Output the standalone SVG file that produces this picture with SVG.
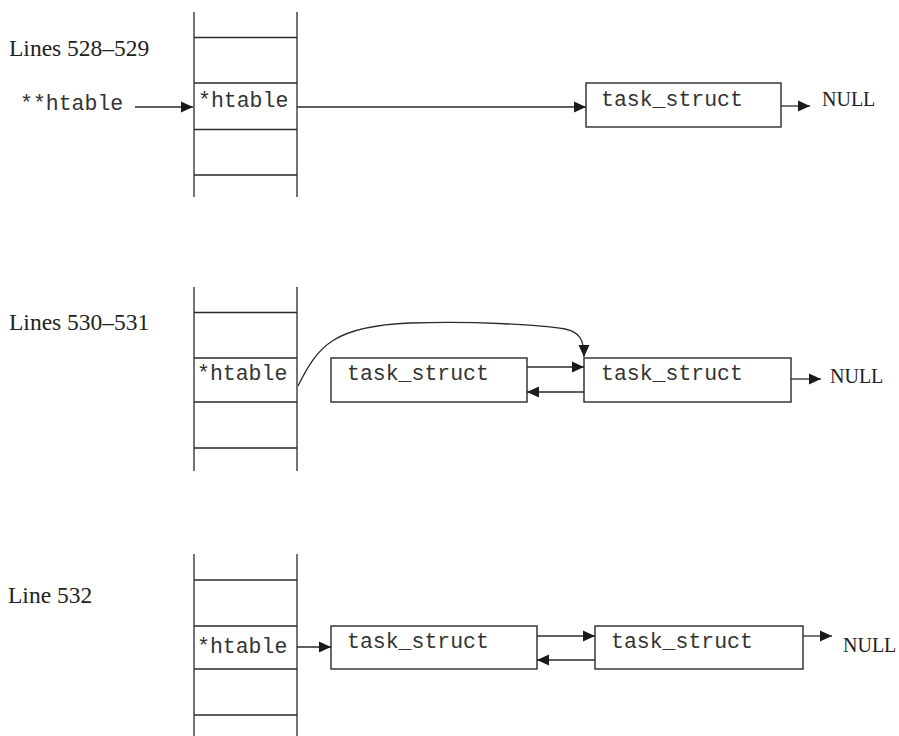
<svg xmlns="http://www.w3.org/2000/svg" width="899" height="736" viewBox="0 0 899 736">
<style>
.ln{stroke:#2a2a2a;stroke-width:1.3;fill:none}
.bx{stroke:#2a2a2a;stroke-width:1.4;fill:#fff}
.lab{font-family:"Liberation Serif","Times New Roman",serif;font-size:23.5px;fill:#222}
.nul{font-family:"Liberation Serif","Times New Roman",serif;font-size:20px;fill:#222}
.mono{font-family:"Liberation Mono","Courier New",monospace;font-size:21.5px;fill:#333}
.ar{stroke:#2a2a2a;stroke-width:1.3;fill:none;marker-end:url(#ah)}
</style>
<defs>
<marker id="ah" markerUnits="userSpaceOnUse" markerWidth="13" markerHeight="12" refX="12" refY="6" orient="auto">
<path d="M0,0.5 L12,6 L0,11.5 Z" fill="#1a1a1a"/>
</marker>
</defs>
<rect width="899" height="736" fill="#fff"/>

<!-- Section 1 -->
<text class="lab" x="9" y="56">Lines 528–529</text>
<text class="mono" x="20" y="110">**htable</text>
<g id="table1">
<path class="ln" d="M194,12 V197 M297,12 V197 M194,37.5 H297 M194,83 H297 M194,129.5 H297 M194,175 H297"/>
<text class="mono" x="198" y="107">*htable</text>
</g>
<g id="t1a">
<rect class="bx" x="586" y="83" width="195" height="44"/>
<text class="mono" x="601" y="106">task_struct</text>
</g>
<text class="nul" x="822" y="106">NULL</text>

<!-- Section 2 -->
<text class="lab" x="9" y="330">Lines 530–531</text>
<g id="table2">
<path class="ln" d="M194,287 V471 M297,287 V471 M194,312.5 H297 M194,358 H297 M194,402 H297 M194,448 H297"/>
<text class="mono" x="197" y="380">*htable</text>
</g>
<g id="t2a">
<rect class="bx" x="331" y="358" width="196" height="44"/>
<text class="mono" x="347" y="380">task_struct</text>
</g>
<g id="t2b">
<rect class="bx" x="584" y="358" width="207" height="44"/>
<text class="mono" x="601" y="380">task_struct</text>
</g>
<text class="nul" x="830" y="383">NULL</text>

<!-- Section 3 -->
<text class="lab" x="8" y="603">Line 532</text>
<g id="table3">
<path class="ln" d="M194,554 V736 M297,554 V736 M194,580 H297 M194,626 H297 M194,669 H297 M194,715 H297"/>
<text class="mono" x="197" y="653">*htable</text>
</g>
<g id="t3a">
<rect class="bx" x="331" y="626" width="206" height="43"/>
<text class="mono" x="347" y="648">task_struct</text>
</g>
<g id="t3b">
<rect class="bx" x="595" y="626" width="208" height="43"/>
<text class="mono" x="611" y="648">task_struct</text>
</g>
<text class="nul" x="843" y="652">NULL</text>

<g id="connectors">
<line class="ar" x1="135" y1="107" x2="193" y2="107"/>
<line class="ar" x1="297" y1="107" x2="586" y2="107"/>
<line class="ar" x1="781" y1="106" x2="810" y2="106"/>

<path class="ar" d="M298,386 C318,345 335,326 410,323 C480,321 540,325 565,329 C580,332 584,340 584,357"/>
<line class="ar" x1="527" y1="367" x2="584" y2="367"/>
<line class="ar" x1="584" y1="392" x2="527" y2="392"/>
<line class="ar" x1="791" y1="379" x2="821" y2="379"/>

<line class="ar" x1="297" y1="647" x2="331" y2="647"/>
<line class="ar" x1="537" y1="636" x2="595" y2="636"/>
<line class="ar" x1="595" y1="660" x2="537" y2="660"/>
<line class="ar" x1="803" y1="636" x2="832" y2="636"/>
</g>
</svg>
